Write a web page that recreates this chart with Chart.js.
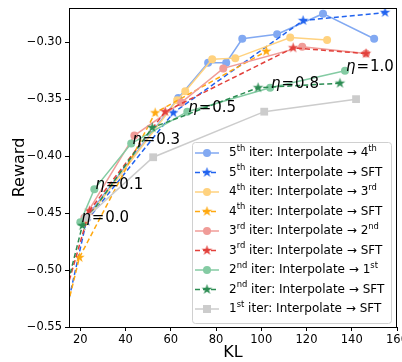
<!DOCTYPE html>
<html><head><meta charset="utf-8">
<script src="https://cdn.jsdelivr.net/npm/chart.js@4.4.1/dist/chart.umd.min.js"></script>
<style>html,body{margin:0;padding:0;background:#fff;}</style>
</head><body>
<canvas id="c" width="402" height="362"></canvas>
<script>
// ---- data ----
const xTicks = [20, 40, 60, 80, 100, 120, 140, 160];
const yTicks = [-0.55, -0.50, -0.45, -0.40, -0.35, -0.30];

const iter5InterpKL = [21.8, 63.3, 76.5, 84.5, 91.6, 107.0, 127.3, 149.9];
const iter5InterpReward = [-0.456, -0.349, -0.318, -0.318, -0.297, -0.293, -0.275, -0.297];
const iter5SftKL = [11.2, 22.7, 61.1, 118.5, 154.7];
const iter5SftReward = [-0.559, -0.457, -0.362, -0.281, -0.274];

const iter4InterpKL = [21.8, 62.8, 66.4, 78.3, 88.5, 112.8, 129.1];
const iter4InterpReward = [-0.458, -0.351, -0.343, -0.315, -0.314, -0.296, -0.298];
const iter4SftKL = [11.2, 19.6, 53.1, 102.2];
const iter4SftReward = [-0.557, -0.489, -0.362, -0.308];

const iter3InterpKL = [21.8, 43.9, 64.6, 83.2, 118.1, 146.3];
const iter3InterpReward = [-0.454, -0.382, -0.353, -0.323, -0.304, -0.310];
const iter3SftKL = [11.2, 24.0, 57.5, 114.1, 146.3];
const iter3SftReward = [-0.536, -0.448, -0.361, -0.305, -0.310];

const iter2InterpKL = [20.0, 26.2, 42.5, 67.3, 103.9, 137.0];
const iter2InterpReward = [-0.458, -0.429, -0.389, -0.361, -0.340, -0.325];
const iter2SftKL = [11.2, 20.9, 51.8, 98.6, 134.8];
const iter2SftReward = [-0.537, -0.461, -0.375, -0.340, -0.336];

const iter1SftKL = [22.7, 52.2, 101.3, 141.9];
const iter1SftReward = [-0.454, -0.401, -0.361, -0.350];

const etaLabels = ['0.0', '0.1', '0.3', '0.5', '0.8', '1.0'];

const seriesLabels = [
  '5^{th} iter: Interpolate \u2192 4^{th}',
  '5^{th} iter: Interpolate \u2192 SFT',
  '4^{th} iter: Interpolate \u2192 3^{rd}',
  '4^{th} iter: Interpolate \u2192 SFT',
  '3^{rd} iter: Interpolate \u2192 2^{nd}',
  '3^{rd} iter: Interpolate \u2192 SFT',
  '2^{nd} iter: Interpolate \u2192 1^{st}',
  '2^{nd} iter: Interpolate \u2192 SFT',
  '1^{st} iter: Interpolate \u2192 SFT'
];
const seriesColors = ['#82a9f2', '#2163ef', '#ffd27f', '#ffa910', '#f09c98', '#e2403b', '#84cba3', '#2b8c52', '#cccccc'];

// ---- helpers ----
const FONT = "'DejaVu Sans', 'Liberation Sans', sans-serif";
function starCanvas(color, R) {
  const s = Math.ceil(R * 2 + 2);
  const c = document.createElement('canvas'); c.width = s; c.height = s;
  const g = c.getContext('2d'); g.fillStyle = color; g.beginPath();
  for (let i = 0; i < 10; i++) {
    const r = i % 2 ? R * 0.382 : R;
    const a = -Math.PI / 2 + i * Math.PI / 5;
    const px = s / 2 + r * Math.cos(a), py = s / 2 + r * Math.sin(a);
    if (i) g.lineTo(px, py); else g.moveTo(px, py);
  }
  g.closePath(); g.fill(); return c;
}
function pts(xs, ys) { return xs.map((x, i) => ({ x: x, y: ys[i] })); }

const raw = [
  [iter5InterpKL, iter5InterpReward, 'circle'],
  [iter5SftKL, iter5SftReward, 'star'],
  [iter4InterpKL, iter4InterpReward, 'circle'],
  [iter4SftKL, iter4SftReward, 'star'],
  [iter3InterpKL, iter3InterpReward, 'circle'],
  [iter3SftKL, iter3SftReward, 'star'],
  [iter2InterpKL, iter2InterpReward, 'circle'],
  [iter2SftKL, iter2SftReward, 'star'],
  [iter1SftKL, iter1SftReward, 'rect']
];

const datasets = raw.map((r, i) => {
  const col = seriesColors[i];
  const kind = r[2];
  return {
    label: seriesLabels[i],
    data: pts(r[0], r[1]),
    borderColor: col,
    backgroundColor: col,
    borderWidth: 1.5,
    borderDash: kind === 'star' ? [5, 3] : [],
    pointStyle: kind === 'star' ? starCanvas(col, 5.5) : kind,
    pointRadius: kind === 'rect' ? 5.5 : 4,
    pointBorderWidth: 0,
    tension: 0,
    fill: false,
    order: 20 - i,
    _kind: kind
  };
});

function drawRich(ctx, text, x, y, size) {
  const parts = text.split(/(\^\{[^}]*\})/).filter(p => p.length);
  let cx = x;
  for (const p of parts) {
    if (p.startsWith('^{')) {
      const t = p.slice(2, -1);
      ctx.font = (size * 0.7) + 'px ' + FONT;
      ctx.fillText(t, cx, y - size * 0.38);
      cx += ctx.measureText(t).width;
    } else {
      ctx.font = size + 'px ' + FONT;
      ctx.fillText(p, cx, y);
      cx += ctx.measureText(p).width;
    }
  }
}

const decor = {
  id: 'decor',
  afterDraw(chart) {
    const ctx = chart.ctx, a = chart.chartArea;
    const xs = chart.scales.x, ys = chart.scales.y;
    ctx.save();
    // frame
    ctx.strokeStyle = '#000'; ctx.lineWidth = 1;
    ctx.strokeRect(Math.round(a.left) + 0.5, Math.round(a.top) + 0.5, Math.round(a.right - a.left) - 1, Math.round(a.bottom - a.top));
    // eta labels along 2nd iter interpolation
    ctx.fillStyle = '#000'; ctx.textBaseline = 'alphabetic'; ctx.textAlign = 'left';
    etaLabels.forEach((lab, i) => {
      const px = xs.getPixelForValue(iter2InterpKL[i]) + 1;
      const py = ys.getPixelForValue(iter2InterpReward[i]);
      ctx.font = 'italic 15px ' + FONT;
      ctx.fillText('\u03b7', px, py);
      ctx.font = '15px ' + FONT;
      ctx.fillText('=', px + 10.5, py);
      ctx.fillText(lab, px + 24, py);
    });
    // legend
    const lx = 192, ly = 142, lw = 199, lh = 181;
    ctx.beginPath();
    if (ctx.roundRect) ctx.roundRect(lx + 0.5, ly + 0.5, lw, lh, 3); else ctx.rect(lx + 0.5, ly + 0.5, lw, lh);
    ctx.fillStyle = 'rgba(255,255,255,0.85)'; ctx.fill();
    ctx.strokeStyle = '#d0d0d0'; ctx.lineWidth = 1; ctx.stroke();
    chart.data.datasets.forEach((ds, i) => {
      const y = 153 + i * 19.5;
      ctx.save();
      ctx.strokeStyle = ds.borderColor; ctx.lineWidth = 1.5;
      ctx.setLineDash(ds.borderDash);
      ctx.beginPath(); ctx.moveTo(195, y); ctx.lineTo(219, y); ctx.stroke();
      ctx.setLineDash([]);
      ctx.fillStyle = ds.backgroundColor;
      if (ds._kind === 'circle') { ctx.beginPath(); ctx.arc(207, y, 4, 0, Math.PI * 2); ctx.fill(); }
      else if (ds._kind === 'rect') { ctx.fillRect(203, y - 4, 8, 8); }
      else { const s = ds.pointStyle; ctx.drawImage(s, 207 - s.width / 2, y - s.height / 2); }
      ctx.restore();
      ctx.fillStyle = '#000'; ctx.textBaseline = 'middle'; ctx.textAlign = 'left';
      drawRich(ctx, ds.label, 229, y, 12);
    });
    // axis titles
    ctx.fillStyle = '#000'; ctx.textAlign = 'center'; ctx.textBaseline = 'middle';
    ctx.font = '16px ' + FONT;
    ctx.fillText('KL', (a.left + a.right) / 2, 353);
    ctx.translate(20, (a.top + a.bottom) / 2); ctx.rotate(-Math.PI / 2);
    ctx.fillText('Reward', 0, 0);
    ctx.restore();
  }
};

new Chart(document.getElementById('c'), {
  type: 'line',
  data: { datasets: datasets },
  options: {
    responsive: false, animation: false, devicePixelRatio: 1, events: [],
    layout: { padding: { top: 8, right: 5, left: 0, bottom: 0 }, autoPadding: false },
    plugins: { legend: { display: false }, tooltip: { enabled: false } },
    scales: {
      x: {
        type: 'linear', min: 15, max: 160,
        afterBuildTicks: s => { s.ticks = xTicks.map(v => ({ value: v })); },
        afterFit: s => { s.height = 35; s.paddingLeft = 0; s.paddingRight = 0; },
        ticks: { font: { family: FONT, size: 11.5 }, color: '#000', padding: 2, maxRotation: 0, autoSkip: false },
        grid: { drawOnChartArea: false, drawTicks: true, tickLength: 4, tickColor: '#000' },
        border: { display: true, color: '#000' }
      },
      y: {
        type: 'linear', min: -0.55, max: -0.27,
        afterBuildTicks: s => { s.ticks = yTicks.map(v => ({ value: v })); },
        afterFit: s => { s.width = 69; s.paddingTop = 0; s.paddingBottom = 0; },
        ticks: { font: { family: FONT, size: 11.5 }, color: '#000', padding: 3, autoSkip: false,
          callback: v => (v < 0 ? '\u2212' : '') + Math.abs(v).toFixed(2) },
        grid: { drawOnChartArea: false, drawTicks: true, tickLength: 4, tickColor: '#000' },
        border: { display: true, color: '#000' }
      }
    }
  },
  plugins: [decor]
});
</script>
</body></html>
